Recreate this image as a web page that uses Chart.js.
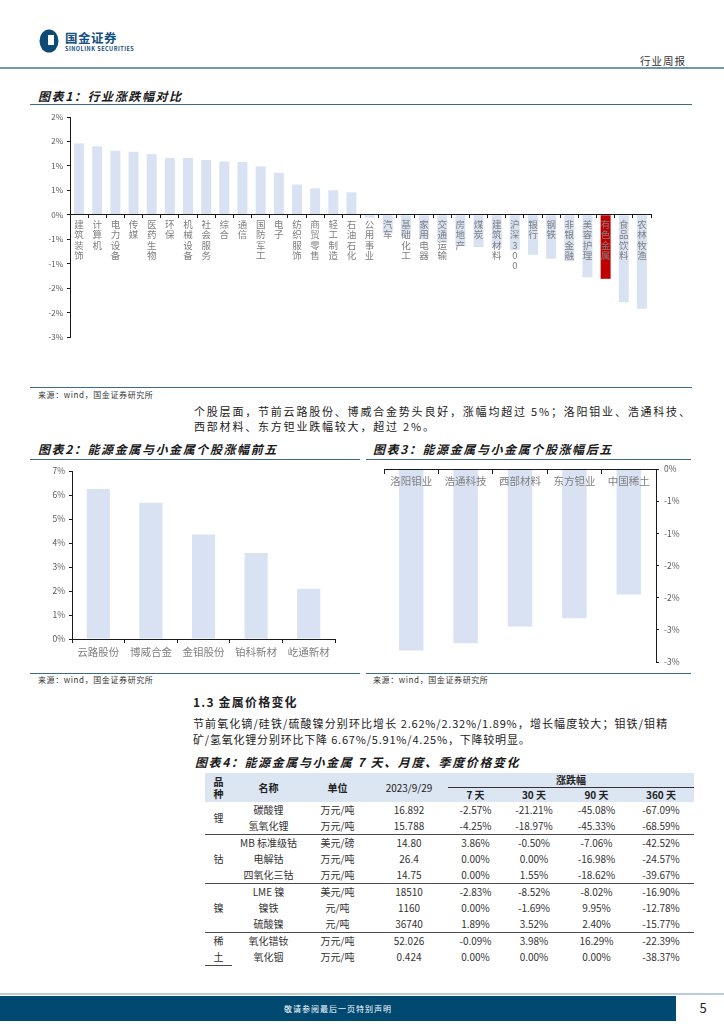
<!DOCTYPE html>
<html><head><meta charset="utf-8">
<script src="https://cdn.jsdelivr.net/npm/chart.js@4.4.0/dist/chart.umd.min.js"></script>
<style>
html,body{margin:0;padding:0;background:#fff;}
body{width:724px;height:1024px;position:relative;overflow:hidden;font-family:"Noto Sans CJK SC","Noto Sans",sans-serif;color:#222;}
.abs{position:absolute;white-space:nowrap;}
.title{font-weight:bold;font-style:italic;font-size:12px;line-height:14px;letter-spacing:1.6px;color:#1a1a1a;}
.rule{position:absolute;height:0;border-top:1.5px solid #3d6a8c;}
.src{font-size:8px;line-height:10px;color:#333;letter-spacing:0.6px;}
.para{font-size:11px;letter-spacing:1.8px;color:#222;line-height:15px;}
.para2{font-size:11px;letter-spacing:0.8px;color:#222;line-height:15px;}
.just{text-align:justify;text-align-last:justify;}
canvas{position:absolute;}
table{position:absolute;border-collapse:collapse;table-layout:fixed;font-size:10px;color:#333;}
td{padding:0;text-align:center;height:16px;line-height:16px;white-space:nowrap;}
thead td{height:14px;line-height:14px;font-weight:bold;color:#222;}
.hd{background:#dce5f2;}
.sep td{border-top:1.5px solid #4a4a4a;}
</style></head>
<body>
<!-- header -->
<svg class="abs" style="left:39px;top:29px" width="20" height="24" viewBox="0 0 20 24">
<ellipse cx="10" cy="12" rx="9.5" ry="11.5" fill="#0d4a74"/>
<rect x="9" y="6" width="6" height="10" fill="#fff"/>
</svg>
<div class="abs" style="left:65px;top:30px;font-size:12.5px;font-weight:bold;color:#15507e;line-height:15px;letter-spacing:0.5px;">国金证券</div>
<div class="abs" style="left:65px;top:46px;font-size:5.5px;font-weight:bold;color:#15507e;line-height:6px;letter-spacing:0.5px;">SINOLINK SECURITIES</div>
<div class="abs" style="left:640px;top:54px;font-size:10.5px;line-height:13px;color:#333;letter-spacing:1px;">行业周报</div>
<div class="abs" style="left:0;top:67px;width:724px;height:2px;background:#6e95b4;"></div>

<!-- chart 1 -->
<div class="abs title" style="left:38px;top:89px;">图表1：行业涨跌幅对比</div>
<div class="rule" style="left:30px;top:104px;width:662px;"></div>
<canvas id="c1" width="640" height="250" style="left:30px;top:107px;width:640px;height:250px;"></canvas>
<div class="rule" style="left:30px;top:387px;width:662px;"></div>
<div class="abs src" style="left:38px;top:390px;">来源：wind，国金证券研究所</div>

<div class="abs para just" style="left:194px;top:404px;width:485px;">个股层面，节前云路股份、博威合金势头良好，涨幅均超过 5%；洛阳钼业、浩通科技、</div>
<div class="abs para" style="left:194px;top:419px;">西部材料、东方钽业跌幅较大，超过 2%。</div>

<!-- chart 2 & 3 -->
<div class="abs title" style="left:38px;top:442px;">图表2：能源金属与小金属个股涨幅前五</div>
<div class="rule" style="left:30px;top:459px;width:330px;"></div>
<div class="abs title" style="left:373px;top:442px;">图表3：能源金属与小金属个股涨幅后五</div>
<div class="rule" style="left:366px;top:459px;width:325px;"></div>
<canvas id="c2" width="320" height="201" style="left:30px;top:462px;width:320px;height:201px;"></canvas>
<canvas id="c3" width="325" height="215" style="left:365px;top:458px;width:325px;height:215px;"></canvas>
<div class="rule" style="left:30px;top:673px;width:330px;"></div>
<div class="rule" style="left:366px;top:673px;width:325px;"></div>
<div class="abs src" style="left:38px;top:675px;">来源：wind，国金证券研究所</div>
<div class="abs src" style="left:373px;top:675px;">来源：wind，国金证券研究所</div>

<!-- section 1.3 -->
<div class="abs" style="left:193px;top:694px;font-size:12px;font-weight:bold;line-height:15px;letter-spacing:1.2px;">1.3 金属价格变化</div>
<div class="abs para2 just" style="left:193px;top:716px;width:475px;">节前氧化镝/硅铁/硫酸镍分别环比增长 2.62%/2.32%/1.89%，增长幅度较大；钼铁/钼精</div>
<div class="abs para2" style="left:193px;top:732px;">矿/氢氧化锂分别环比下降 6.67%/5.91%/4.25%，下降较明显。</div>
<div class="abs title" style="left:195px;top:755px;">图表4：能源金属与小金属 7 天、月度、季度价格变化</div>

<table id="tbl" style="left:205px;top:773px;width:489px;">
<colgroup><col style="width:27px"><col style="width:73px"><col style="width:65px"><col style="width:78px"><col style="width:55px"><col style="width:62px"><col style="width:63px"><col style="width:66px"></colgroup>
<thead>
<tr class="hd"><td rowspan="2" style="line-height:12px;">品<br>种</td><td rowspan="2">名称</td><td rowspan="2">单位</td><td rowspan="2" style="font-weight:normal;">2023/9/29</td><td colspan="4" style="border-bottom:1px solid #333;">涨跌幅</td></tr>
<tr class="hd"><td>7 天</td><td>30 天</td><td>90 天</td><td>360 天</td></tr>
</thead>
<tbody id="tb"></tbody>
</table>

<!-- footer -->
<div class="abs" style="left:0;top:993px;width:724px;height:2px;background:#b8cde0;"></div>
<div class="abs" style="left:0;top:996px;width:676px;height:25px;background:#004a72;color:#fff;font-size:8px;text-align:center;line-height:25px;letter-spacing:1px;">敬请参阅最后一页特别声明</div>
<div class="abs" style="left:690px;top:998px;width:26px;text-align:center;font-size:13px;line-height:20px;color:#222;">5</div>

<script>
// ---- data ----
const industryLabels = ['建筑装饰','计算机','电力设备','传媒','医药生物','环保','机械设备','社会服务','综合','通信','国防军工','电子','纺织服饰','商贸零售','轻工制造','石油石化','公用事业','汽车','基础化工','家用电器','交通运输','房地产','煤炭','建筑材料','沪深300','银行','钢铁','非银金融','美容护理','有色金属','食品饮料','农林牧渔'];
const industryChange = [1.46,1.40,1.31,1.29,1.24,1.16,1.16,1.12,1.09,1.08,0.99,0.86,0.62,0.54,0.50,0.46,-0.06,-0.38,-0.45,-0.50,-0.57,-0.64,-0.66,-0.69,-0.72,-0.82,-0.90,-0.95,-1.28,-1.31,-1.79,-1.92];
const highlightIndustry = '有色金属';
const topStocks = ['云路股份','博威合金','金钼股份','铂科新材','屹通新材'];
const topChange = [6.25,5.68,4.36,3.59,2.10];
const bottomStocks = ['洛阳钼业','浩通科技','西部材料','东方钽业','中国稀土'];
const bottomChange = [-2.82,-2.71,-2.45,-2.32,-1.95];

const tableGroups = ['锂','钴','镍','稀土'];
const tableNames = [['碳酸锂','氢氧化锂'],['MB 标准级钴','电解钴','四氧化三钴'],['LME 镍','镍铁','硫酸镍'],['氧化镨钕','氧化铟']];
const tableUnits = [['万元/吨','万元/吨'],['美元/磅','万元/吨','万元/吨'],['美元/吨','元/吨','元/吨'],['万元/吨','万元/吨']];
const tablePrices = [['16.892','15.788'],['14.80','26.4','14.75'],['18510','1160','36740'],['52.026','0.424']];
const tableChanges = [
  [['-2.57%','-21.21%','-45.08%','-67.09%'],['-4.25%','-18.97%','-45.33%','-68.59%']],
  [['3.86%','-0.50%','-7.06%','-42.52%'],['0.00%','0.00%','-16.98%','-24.57%'],['0.00%','1.55%','-18.62%','-39.67%']],
  [['-2.83%','-8.52%','-8.02%','-16.90%'],['0.00%','-1.69%','9.95%','-12.78%'],['1.89%','3.52%','2.40%','-15.77%']],
  [['-0.09%','3.98%','16.29%','-22.39%'],['0.00%','0.00%','0.00%','-38.37%']]
];

// ---- table ----
const tb = document.getElementById('tb');
tableGroups.forEach((g, gi) => {
  tableNames[gi].forEach((n, ri) => {
    const tr = document.createElement('tr');
    if (gi > 0 && ri === 0) tr.className = 'sep';
    let html = '';
    if (ri === 0) {
      const rs = tableNames[gi].length;
      const last = gi === tableGroups.length - 1;
      const label = g.length > 1 ? g.split('').join('<br>') : g;
      html += `<td rowspan="${rs}" style="line-height:16px;${last ? 'border-bottom:1.5px solid #4a4a4a;' : ''}">${label}</td>`;
    }
    html += `<td>${n}</td><td>${tableUnits[gi][ri]}</td><td>${tablePrices[gi][ri]}</td>`;
    tableChanges[gi][ri].forEach(c => html += `<td>${c}</td>`);
    tr.innerHTML = html;
    tb.appendChild(tr);
  });
});

// ---- charts ----
Chart.defaults.font.family = '"Noto Sans CJK SC","Noto Sans",sans-serif';
const pct = v => { const r = Math.sign(v) * Math.round(Math.abs(v)); return (r === 0 ? 0 : r) + '%'; };
const barBlue = '#D9E2F3';
const axisCol = '#1a1a1a';

new Chart(document.getElementById('c1'), {
  type: 'bar',
  data: {
    labels: industryLabels.map(s => s.split('')),
    datasets: [{
      data: industryChange,
      backgroundColor: industryLabels.map(l => l === highlightIndustry ? '#C00000' : barBlue),
      barPercentage: 0.55, categoryPercentage: 1
    }]
  },
  options: {
    responsive: false, animation: false, events: [],
    layout: { padding: { top: 10, bottom: 20, left: 0, right: 19 } },
    plugins: { legend: { display: false }, tooltip: { enabled: false } },
    scales: {
      x: {
        position: { y: 0 },
        grid: { drawOnChartArea: false, tickLength: 3, color: axisCol, z: 1 },
        border: { color: axisCol, z: 1 },
        ticks: { z: 1, autoSkip: false, maxRotation: 0, minRotation: 0, font: { size: 9.5, lineHeight: 1.1 }, color: '#7f7f7f', padding: 1 }
      },
      y: {
        min: -2.5, max: 2,
        afterFit: s => { s.width = 40; },
        ticks: { stepSize: 0.5, callback: v => pct(v), font: { size: 8 }, color: '#595959', padding: 4 },
        grid: { drawOnChartArea: false, tickLength: 3, color: axisCol },
        border: { color: axisCol }
      }
    }
  }
});

new Chart(document.getElementById('c2'), {
  type: 'bar',
  data: { labels: topStocks, datasets: [{ data: topChange, backgroundColor: barBlue, barPercentage: 0.44, categoryPercentage: 1 }] },
  options: {
    responsive: false, animation: false, events: [],
    layout: { padding: { top: 9, bottom: 0, left: 0, right: 15 } },
    plugins: { legend: { display: false }, tooltip: { enabled: false } },
    scales: {
      x: {
        afterFit: s => { s.height = 24; },
        grid: { drawOnChartArea: false, tickLength: 4, color: axisCol },
        border: { color: axisCol },
        ticks: { font: { size: 10.5 }, color: '#7f7f7f', padding: 3 }
      },
      y: {
        min: 0, max: 7,
        afterFit: s => { s.width = 42; },
        ticks: { stepSize: 1, callback: v => pct(v), font: { size: 8.5 }, color: '#595959', padding: 4 },
        grid: { drawOnChartArea: false, tickLength: 3, color: axisCol },
        border: { color: axisCol }
      }
    }
  }
});

new Chart(document.getElementById('c3'), {
  type: 'bar',
  data: { labels: bottomStocks, datasets: [{ data: bottomChange, backgroundColor: barBlue, barPercentage: 0.45, categoryPercentage: 1 }] },
  options: {
    responsive: false, animation: false, events: [],
    layout: { padding: { top: 11, bottom: 11, left: 19, right: 0 } },
    plugins: { legend: { display: false }, tooltip: { enabled: false } },
    scales: {
      x: {
        position: { y: 0 },
        grid: { drawOnChartArea: false, tickLength: 4, color: axisCol, z: 1 },
        border: { color: axisCol, z: 1 },
        ticks: { z: 1, font: { size: 10.5 }, color: '#7f7f7f', padding: 2 }
      },
      y: {
        position: 'right',
        min: -3, max: 0,
        afterFit: s => { s.width = 34; },
        ticks: { stepSize: 0.5, callback: v => pct(v), font: { size: 8.5 }, color: '#595959', padding: 5 },
        grid: { drawOnChartArea: false, tickLength: 3, color: axisCol },
        border: { color: axisCol }
      }
    }
  }
});
</script>
</body></html>
